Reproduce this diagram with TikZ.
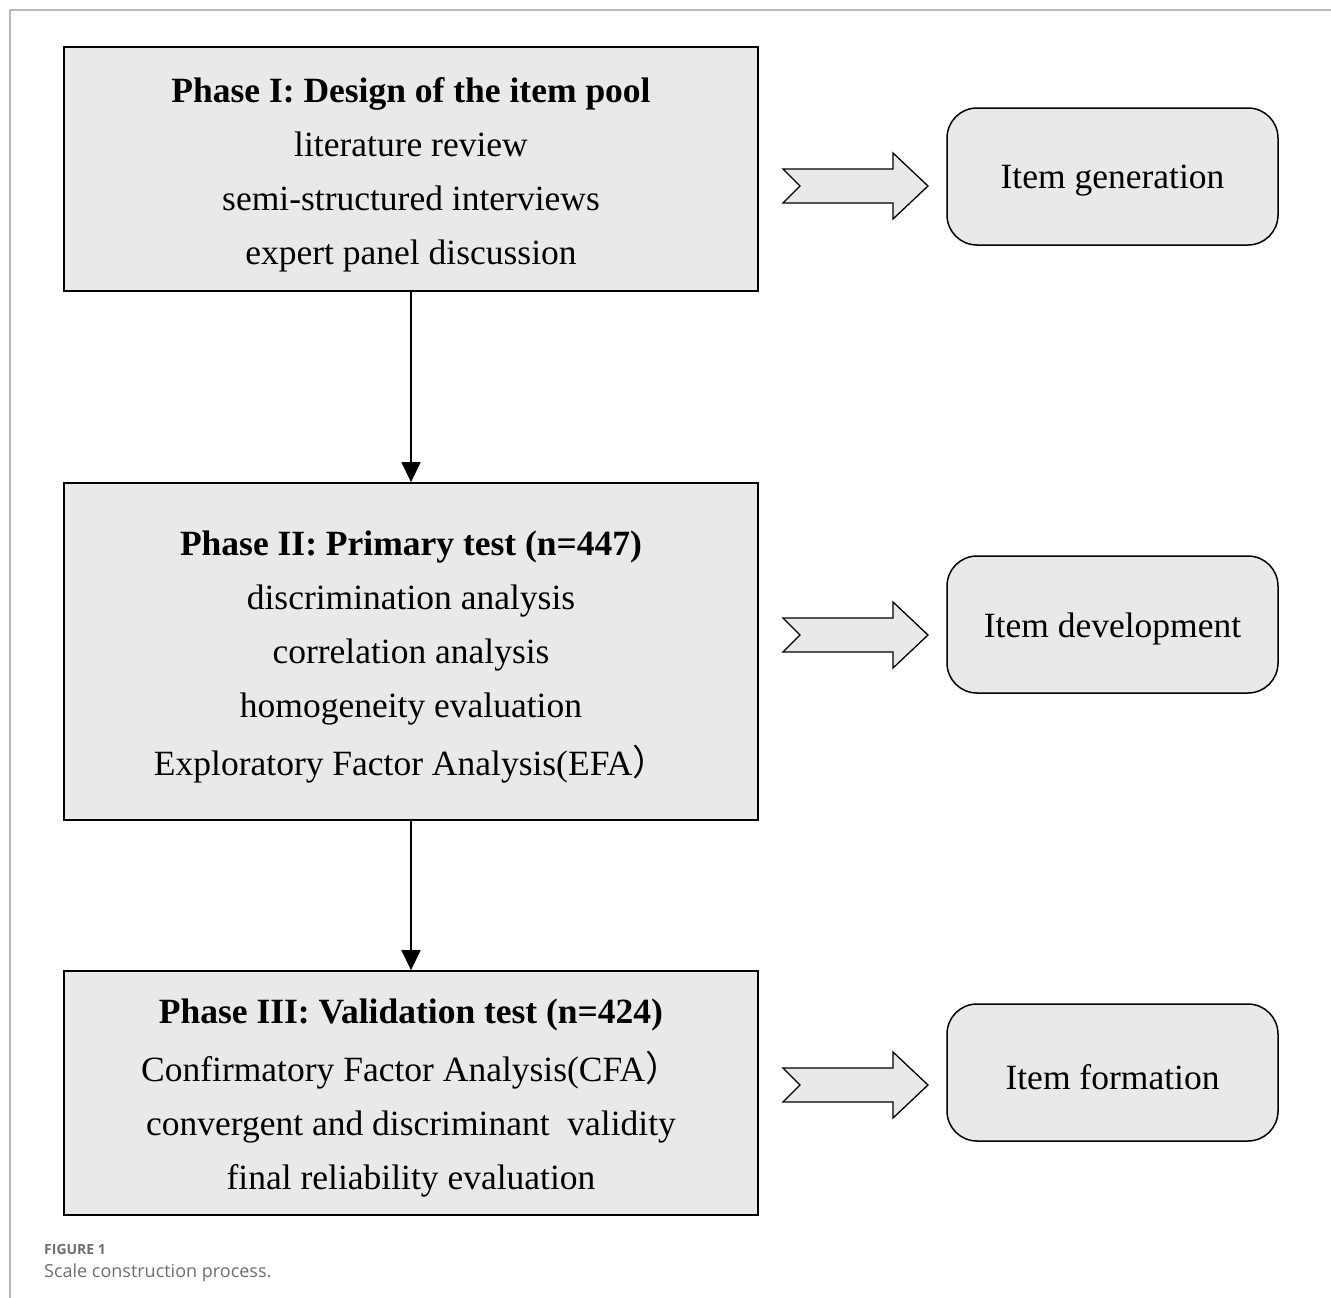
\documentclass[tikz,border=0pt]{standalone}
\usepackage{fontspec}
\setmainfont{Liberation Serif}
\newfontfamily\capfont{Open Sans}
\newfontfamily\cjk{Noto Sans CJK TC}
\usetikzlibrary{arrows.meta}
\definecolor{boxfill}{RGB}{233,233,233}
\definecolor{framegray}{RGB}{185,185,185}
\definecolor{capgray}{RGB}{110,110,110}
\tikzset{
  phasebox/.style={draw=black, line width=1.8pt, fill=boxfill, minimum width=694pt, inner sep=0pt},
  phasetext/.style={inner sep=0pt, align=center, yshift=-5.5pt, font=\fontsize{35.5}{54}\selectfont},
  resultbox/.style={draw=black, line width=1.5pt, fill=boxfill, rounded corners=30pt, minimum width=331pt, minimum height=137pt, inner sep=0pt},
  resulttext/.style={inner sep=0pt, yshift=-4.5pt, font=\fontsize{35.5}{40}\selectfont},
  flowarrow/.style={line width=1.5pt, -{Triangle[length=20pt,width=19pt]}},
  blockarrow/.style={draw=black, line width=1.3pt, fill=boxfill, line join=miter},
  framestyle/.style={draw=framegray, line width=1.2pt}
}
\begin{document}
\begin{tikzpicture}[x=1pt,y=-1pt]
\useasboundingbox (0,0) rectangle (1331,1298);
\draw[framestyle] (1331,10) -- (10,10) -- (10,1298);

\node[phasebox, minimum height=244pt] (p1) at (411,169) {};
\node[phasetext] (p1t) at (p1.center)
  {\textbf{Phase I: Design of the item pool}\\ literature review\\ semi-structured interviews\\ expert panel discussion};
\node[phasebox, minimum height=337pt] (p2) at (411,651.5) {};
\node[phasetext] (p2t) at (p2.center)
  {\textbf{Phase II: Primary test (n=447)}\\ discrimination analysis\\ correlation analysis\\ homogeneity evaluation\\[4pt] Exploratory Factor Analysis(EFA{\cjk ）}};
\node[phasebox, minimum height=244pt] (p3) at (411,1093) {};
\node[phasetext] (p3t) at (p3.center)
  {\textbf{Phase III: Validation test (n=424)}\\[4pt] Confirmatory Factor Analysis(CFA{\cjk ）}\\ convergent and discriminant\ \ validity\\ final reliability evaluation};

\node[resultbox] (r1) at (1112.5,176.5) {};
\node[resulttext] (r1t) at (r1.center) {Item generation};
\node[resultbox] (r2) at (1112.5,624.5) {};
\node[resulttext] (r2t) at (r2.center) {Item development};
\node[resultbox] (r3) at (1112.5,1072.5) {};
\node[resulttext] (r3t) at (r3.center) {Item formation};

\draw[flowarrow] (p1.south) -- (p2.north);
\draw[flowarrow] (p2.south) -- (p3.north);

\foreach \yc/\n in {186/a1, 635/a2, 1085/a3}{
  \coordinate (\n) at (783,\yc);
  \draw[blockarrow] (\n) ++(0,-17) -- ++(110,0) -- ++(0,-16) -- ++(35,33) -- ++(-35,33) -- ++(0,-16) -- ++(-110,0) -- ++(17,-17) -- cycle;
}

\node[anchor=base west, inner sep=0pt, text=capgray, font=\capfont\bfseries\fontsize{14}{16}\selectfont] (fig) at (44,1254) {FIGURE 1};
\node[anchor=base west, inner sep=0pt, text=capgray, font=\capfont\fontsize{18}{20}\selectfont] (cap) at (44,1277) {Scale construction process.};
\end{tikzpicture}
\end{document}
